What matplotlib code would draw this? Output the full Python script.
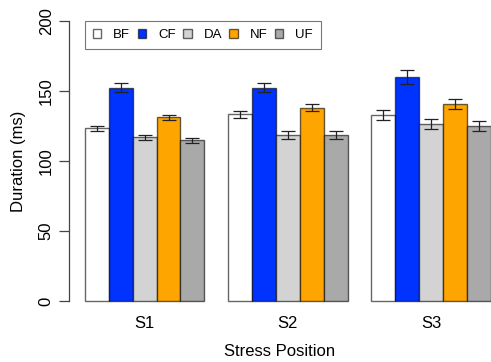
import matplotlib
matplotlib.use("Agg")
import matplotlib.pyplot as plt
from matplotlib.patches import Patch
import numpy as np

plt.rcParams['font.family'] = ['Liberation Sans', 'DejaVu Sans']

positions = ['S1', 'S2', 'S3']
conditions = ['BF', 'CF', 'DA', 'NF', 'UF']
colors = ['#FFFFFF', '#0033FF', '#D3D3D3', '#FFA500', '#A9A9A9']

# mean durations (ms) per condition, one value per stress position
bf = [123.4, 133.3, 132.9]
cf = [152.4, 152.4, 159.8]
da = [116.9, 118.6, 126.4]
nf = [131.2, 138.1, 140.9]
uf = [114.8, 118.6, 125.0]

# standard errors
bf_se = [1.9, 2.7, 3.6]
cf_se = [3.0, 3.2, 5.0]
da_se = [1.9, 3.1, 3.5]
nf_se = [2.0, 2.7, 3.7]
uf_se = [1.7, 2.6, 3.6]

means = [bf, cf, da, nf, uf]
errs = [bf_se, cf_se, da_se, nf_se, uf_se]

W, H = 491, 362
fig = plt.figure(figsize=(W / 100, H / 100), dpi=100)

# axes box in pixels: left 69, right 491, top 9.8, bottom 312.2
left, right, top, bottom = 69, 491, 9.8, 312.2
ax = fig.add_axes([left / W, 1 - bottom / H, (right - left) / W, (bottom - top) / H])

# grouped bars, one bar width of space between groups
for i, (vals, se, col) in enumerate(zip(means, errs, colors)):
    xs = np.arange(len(positions)) * 6 + 1.5 + i
    ax.bar(xs, vals, width=1.0, color=col, edgecolor=(0, 0, 0, 0.6), linewidth=1.0)
    ax.errorbar(xs, vals, yerr=se, fmt='none', ecolor='#222222', elinewidth=0.9,
                capsize=5, capthick=0.9)

ax.set_xlim(0.33, 18.01)
ax.set_ylim(-8, 208)

for s in ['top', 'right', 'bottom']:
    ax.spines[s].set_visible(False)
ax.spines['left'].set_bounds(0, 200)
ax.spines['left'].set_color('#444444')
ax.spines['left'].set_linewidth(0.9)

ax.set_yticks([0, 50, 100, 150, 200])
ax.set_yticklabels(['0', '50', '100', '150', '200'], rotation=90, va='center', fontsize=12)
ax.tick_params(axis='y', length=7, width=0.9, color='#444444', pad=4)

ax.set_xticks(np.arange(len(positions)) * 6 + 3.5)
ax.set_xticklabels(positions, fontsize=12)
ax.tick_params(axis='x', length=0, pad=3)

ax.set_ylabel('Duration (ms)', fontsize=12, labelpad=9)
ax.set_xlabel('Stress Position', fontsize=12, labelpad=9)

handles = [Patch(facecolor=c, edgecolor=(0, 0, 0, 0.6), linewidth=1.0) for c in colors]
leg = fig.legend(handles, conditions, loc='upper left', ncol=5,
                 bbox_to_anchor=(85 / W, 1 - 21 / H), fontsize=9.5,
                 fancybox=False, framealpha=1, edgecolor='#777777',
                 handlelength=0.65, handleheight=0.65, handletextpad=0.9,
                 columnspacing=0.55, borderpad=0.6, borderaxespad=0)
leg.get_frame().set_linewidth(0.8)

fig.savefig('out.png', dpi=100)
